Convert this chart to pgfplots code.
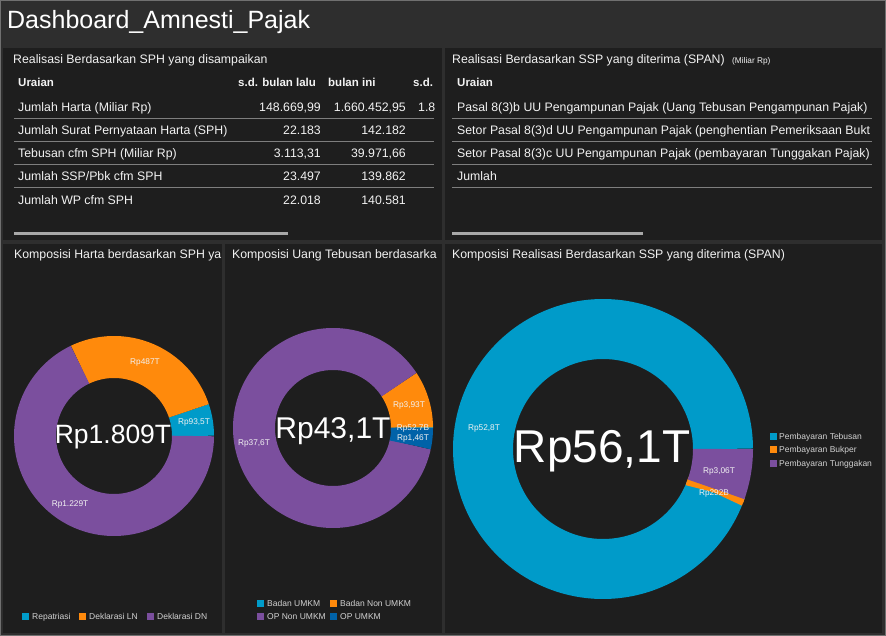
\documentclass[border=0pt]{standalone}
\usepackage{pgfplots}
\pgfplotsset{compat=1.18}
\usepackage{pgfplotstable}
\usepackage{fontspec}
\setmainfont{Liberation Sans}

\definecolor{bgouter}{HTML}{2E2E2E}
\definecolor{frame}{HTML}{707070}
\definecolor{panel}{HTML}{1E1E1E}
\definecolor{cCyan}{HTML}{009BC9}
\definecolor{cOrange}{HTML}{FF8A0C}
\definecolor{cPurple}{HTML}{7B4F9E}
\definecolor{cBlue}{HTML}{0062A8}
\definecolor{sepc}{HTML}{7E7E7E}
\definecolor{scroll}{HTML}{A8A8A8}
\definecolor{txt}{HTML}{F2F2F2}
\definecolor{lgtxt}{HTML}{D2D2D2}

% Komposisi Harta (Rp triliun)
\pgfplotstableread{
label value color
Repatriasi 93.5 cCyan
DeklarasiLN 487 cOrange
DeklarasiDN 1229 cPurple
}\harta
% Komposisi Uang Tebusan (Rp triliun)
\pgfplotstableread{
label value color
BadanUMKM 0.0527 cCyan
BadanNonUMKM 3.93 cOrange
OPNonUMKM 37.6 cPurple
OPUMKM 1.46 cBlue
}\tebusan
% Komposisi Realisasi SSP (Rp triliun)
\pgfplotstableread{
label value color
PembayaranTebusan 52.8 cCyan
PembayaranBukper 0.292 cOrange
PembayaranTunggakan 3.06 cPurple
}\spantab

% draws one ring: #1 table, #2 mid radius, #3 ring width
\newcommand\donut[3]{%
  \pgfplotstablegetrowsof{#1}\pgfmathtruncatemacro\nr{\pgfplotsretval-1}%
  \def\tot{0}%
  \pgfplotsforeachungrouped \i in {0,...,\nr}{%
     \pgfplotstablegetelem{\i}{value}\of{#1}%
     \pgfmathsetmacro\tot{\tot+\pgfplotsretval}}%
  \def\acc{0}%
  \pgfplotsforeachungrouped \i in {0,...,\nr}{%
     \pgfplotstablegetelem{\i}{value}\of{#1}%
     \let\val\pgfplotsretval
     \pgfmathsetmacro\aS{\acc/\tot*360}%
     \pgfmathsetmacro\acc{\acc+\val}%
     \pgfmathsetmacro\aE{\acc/\tot*360}%
     \pgfplotstablegetelem{\i}{color}\of{#1}\let\col\pgfplotsretval
     \edef\doplot{\noexpand\addplot[draw=\col, line width=#3pt, domain=\aS:\aE, samples=181, variable=\noexpand\t, forget plot] ({#2*cos(\noexpand\t)},{#2*sin(\noexpand\t)});}%
     \doplot}%
}

\tikzset{
 tx/.style={anchor=base west, inner sep=0pt, text=txt, font=\fontsize{12.3}{14}\selectfont},
 tr/.style={anchor=base east, inner sep=0pt, text=txt, font=\fontsize{12.3}{14}\selectfont},
 th/.style={anchor=base west, inner sep=0pt, text=txt, font=\fontsize{11.5}{14}\selectfont\bfseries},
 lb/.style={anchor=base, inner sep=0pt, text=txt, font=\fontsize{8.3}{10}\selectfont},
 lg/.style={anchor=base west, inner sep=0pt, text=lgtxt, font=\fontsize{8.5}{10}\selectfont},
 sq/.style={inner sep=0pt, minimum size=7pt},
}

\begin{document}
\begin{tikzpicture}
\begin{scope}[x=1pt,y=-1pt]
\fill[bgouter] (0,0) rectangle (886,636);
\draw[frame] (0.5,0.5) rectangle (885.5,635.5);
\fill[panel] (3,48) rectangle (442,240);
\fill[panel] (445,48) rectangle (882,240);
\fill[panel] (3,244) rectangle (222,633);
\fill[panel] (225,244) rectangle (442,633);
\fill[panel] (445,244) rectangle (882,633);
\node[anchor=base west, inner sep=0pt, text=white, font=\fontsize{25}{30}\selectfont] at (7,29) {Dashboard\_Amnesti\_Pajak};
% ---- panel 1 table
\node[tx] at (13,64) {Realisasi Berdasarkan SPH yang disampaikan};
\node[th] at (18,87) {Uraian};
\node[th] at (238,87) {s.d. bulan lalu};
\node[th] at (328,87) {bulan ini};
\node[th] at (413,87) {s.d.};
\node[tx] at (18,112) {Jumlah Harta (Miliar Rp)};
\node[tr] at (321,112) {148.669,99};
\node[tr] at (406,112) {1.660.452,95};
\node[tx] at (418,112) {1.8};
\node[tx] at (18,135) {Jumlah Surat Pernyataan Harta (SPH)};
\node[tr] at (321,135) {22.183};
\node[tr] at (406,135) {142.182};
\node[tx] at (18,158) {Tebusan cfm SPH (Miliar Rp)};
\node[tr] at (321,158) {3.113,31};
\node[tr] at (406,158) {39.971,66};
\node[tx] at (18,181) {Jumlah SSP/Pbk cfm SPH};
\node[tr] at (321,181) {23.497};
\node[tr] at (406,181) {139.862};
\node[tx] at (18,205) {Jumlah WP cfm SPH};
\node[tr] at (321,205) {22.018};
\node[tr] at (406,205) {140.581};
\foreach \y in {119,142,165,188} \draw[sepc, line width=1pt] (14,\y) -- (434,\y);
\fill[scroll] (14,232.5) rectangle (288,235.5);
% ---- panel 2 table
\node[tx] at (452,64) {Realisasi Berdasarkan SSP yang diterima (SPAN)};
\node[anchor=base west, inner sep=0pt, text=txt, font=\fontsize{8.3}{10}\selectfont] at (732,64) {(Miliar Rp)};
\node[th] at (457,87) {Uraian};
\node[tx] at (457,112) {Pasal 8(3)b UU Pengampunan Pajak (Uang Tebusan Pengampunan Pajak)};
\node[tx] at (457,135) {Setor Pasal 8(3)d UU Pengampunan Pajak (penghentian Pemeriksaan Bukt};
\node[tx] at (457,158) {Setor Pasal 8(3)c UU Pengampunan Pajak (pembayaran Tunggakan Pajak)};
\node[tx] at (457,181) {Jumlah};
\foreach \y in {119,142,165,188} \draw[sepc, line width=1pt] (452,\y) -- (872,\y);
\fill[scroll] (452,232.5) rectangle (643,235.5);
% ---- chart titles
\node[tx] at (14,259) {Komposisi Harta berdasarkan SPH ya};
\node[tx] at (232,259) {Komposisi Uang Tebusan berdasarka};
\node[tx] at (452,259) {Komposisi Realisasi Berdasarkan SSP yang diterima (SPAN)};
\end{scope}

% ---- donuts
\begin{axis}[at={(114pt,-436pt)}, anchor=center, x=1pt, y=1pt,
  xmin=-105, xmax=105, ymin=-105, ymax=105, hide axis, clip=false]
\donut{\harta}{79}{42}
\end{axis}
\begin{axis}[at={(333pt,-428pt)}, anchor=center, x=1pt, y=1pt,
  xmin=-105, xmax=105, ymin=-105, ymax=105, hide axis, clip=false]
\donut{\tebusan}{79}{42}
\end{axis}
\begin{axis}[at={(603pt,-449pt)}, anchor=center, x=1pt, y=1pt,
  xmin=-155, xmax=155, ymin=-155, ymax=155, hide axis, clip=false]
\donut{\spantab}{120}{60}
\end{axis}

\begin{scope}[x=1pt,y=-1pt]
% center totals
\node[anchor=base, inner sep=0pt, text=white, font=\fontsize{26.5}{30}\selectfont] at (113,443) {Rp1.809T};
\node[anchor=base, inner sep=0pt, text=white, font=\fontsize{30}{34}\selectfont] at (333,438) {Rp43,1T};
\node[anchor=base, inner sep=0pt, text=white, font=\fontsize{46}{50}\selectfont] at (602,462) {Rp56,1T};
% slice labels
\node[lb] at (145,364) {Rp487T};
\node[lb] at (194,424) {Rp93,5T};
\node[lb] at (70,506) {Rp1.229T};
\node[lb] at (409,407) {Rp3,93T};
\node[lb] at (413,430.5) {Rp52,7B};
\node[lb] at (413,440) {Rp1,46T};
\node[lb] at (254,445) {Rp37,6T};
\node[lb] at (484,430) {Rp52,8T};
\node[lb] at (719,473) {Rp3,06T};
\node[lb] at (714,495) {Rp292B};
% legends
\node[sq, fill=cCyan] at (25.5,616) {};
\node[lg] at (32,619) {Repatriasi};
\node[sq, fill=cOrange] at (82.5,616) {};
\node[lg] at (89,619) {Deklarasi LN};
\node[sq, fill=cPurple] at (150.5,616) {};
\node[lg] at (157,619) {Deklarasi DN};
\node[sq, fill=cCyan] at (260.5,603) {};
\node[lg] at (267,606) {Badan UMKM};
\node[sq, fill=cOrange] at (333.5,603) {};
\node[lg] at (340,606) {Badan Non UMKM};
\node[sq, fill=cPurple] at (260.5,616) {};
\node[lg] at (267,619) {OP Non UMKM};
\node[sq, fill=cBlue] at (333.5,616) {};
\node[lg] at (340,619) {OP UMKM};
\node[sq, fill=cCyan] at (773.5,436) {};
\node[lg] at (779,439) {Pembayaran Tebusan};
\node[sq, fill=cOrange] at (773.5,449.5) {};
\node[lg] at (779,452.5) {Pembayaran Bukper};
\node[sq, fill=cPurple] at (773.5,463) {};
\node[lg] at (779,466) {Pembayaran Tunggakan};
\end{scope}
\pgfresetboundingbox
\useasboundingbox (0,0) rectangle (886pt,-636pt);
\end{tikzpicture}
\end{document}
